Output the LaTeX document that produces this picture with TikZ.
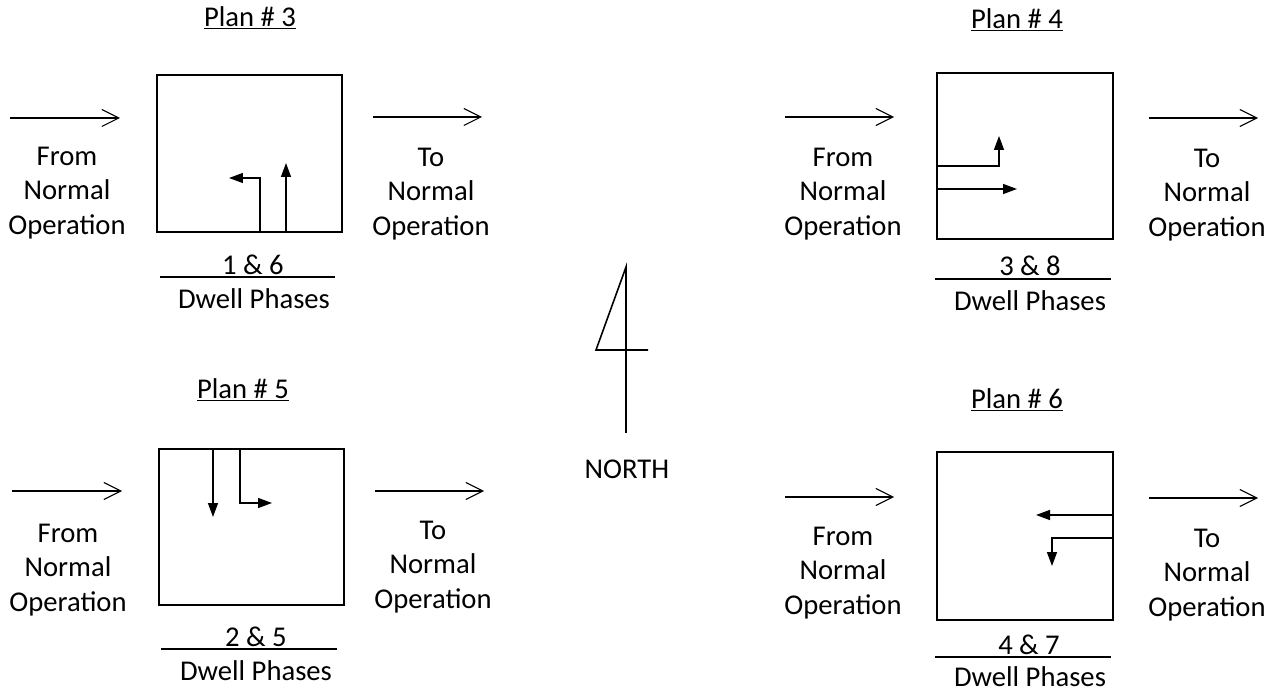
\documentclass[tikz,border=0pt]{standalone}
\usepackage{fontspec}
\setmainfont{Carlito}
\usepackage{tikz}
\usetikzlibrary{arrows.meta}

\tikzset{
  flow/.style={-{Straight Barb[length=0.34cm,width=0.34cm]},line width=0.6pt},
  move/.style={-{Triangle[length=0.28cm,width=0.2cm]},line width=0.8pt},
  plan/.style={line width=1.2pt},
  bar/.style={line width=1.4pt},
  lbl/.style={inner sep=0pt,align=center,font=\fontsize{16.3pt}{19.8pt}\selectfont},
}

\begin{document}
\begin{tikzpicture}[x=0.02cm,y=-0.02cm]
\useasboundingbox (0,0) rectangle (1275,692);

% Plan 3
\node[lbl] (t3) at (250,18) {\underline{Plan \# 3}};
\draw[plan] (157,75) rectangle (342,232);
\draw[move] (260,232) -- (260,178) -- (229,178);
\draw[move] (286,232) -- (286,163);
\draw[flow] (10,118) -- (120,118);
\draw[flow] (373,117) -- (482,117);
\node[lbl] (f3) at (67,193) {From\\Normal\\Operation};
\node[lbl] (o3) at (431,194) {To\\Normal\\Operation};
\node[lbl] (n3) at (253,265) {1 \& 6};
\draw[bar] (160,277) -- (335,277);
\node[lbl] (d3) at (254,299) {Dwell Phases};

% Plan 4
\node[lbl] (t4) at (1017,20) {\underline{Plan \# 4}};
\draw[plan] (937,73) rectangle (1113,239);
\draw[move] (937,166) -- (999,166) -- (999,136);
\draw[move] (937,189) -- (1017,189);
\draw[flow] (785,117) -- (894,117);
\draw[flow] (1149,118) -- (1258,118);
\node[lbl] (f4) at (843,194) {From\\Normal\\Operation};
\node[lbl] (o4) at (1207,195) {To\\Normal\\Operation};
\node[lbl] (n4) at (1030,266) {3 \& 8};
\draw[bar] (935,279) -- (1111,279);
\node[lbl] (d4) at (1030,301) {Dwell Phases};

% Plan 5
\node[lbl] (t5) at (243,390) {\underline{Plan \# 5}};
\draw[plan] (159,449) rectangle (344,605);
\draw[move] (213,449) -- (213,517);
\draw[move] (240,449) -- (240,503) -- (272,503);
\draw[flow] (12,491) -- (122,491);
\draw[flow] (375,491) -- (484,491);
\node[lbl] (f5) at (68,570) {From\\Normal\\Operation};
\node[lbl] (o5) at (433,567) {To\\Normal\\Operation};
\node[lbl] (n5) at (256,637) {2 \& 5};
\draw[bar] (161,649) -- (337,649);
\node[lbl] (d5) at (256,671) {Dwell Phases};

% Plan 6
\node[lbl] (t6) at (1017,400) {\underline{Plan \# 6}};
\draw[plan] (937,452) rectangle (1113,620);
\draw[move] (1113,515) -- (1036,515);
\draw[move] (1113,538) -- (1052,538) -- (1052,566);
\draw[flow] (785,497) -- (894,497);
\draw[flow] (1149,498) -- (1258,498);
\node[lbl] (f6) at (843,573) {From\\Normal\\Operation};
\node[lbl] (o6) at (1207,575) {To\\Normal\\Operation};
\node[lbl] (n6) at (1029,645) {4 \& 7};
\draw[bar] (935,657) -- (1111,657);
\node[lbl] (d6) at (1030,677) {Dwell Phases};

% north sign
\draw[line width=0.9pt] (626,433) -- (626,267) -- (596,350) -- (648,350);
\node[lbl] (nth) at (627,469) {NORTH};
\end{tikzpicture}
\end{document}
